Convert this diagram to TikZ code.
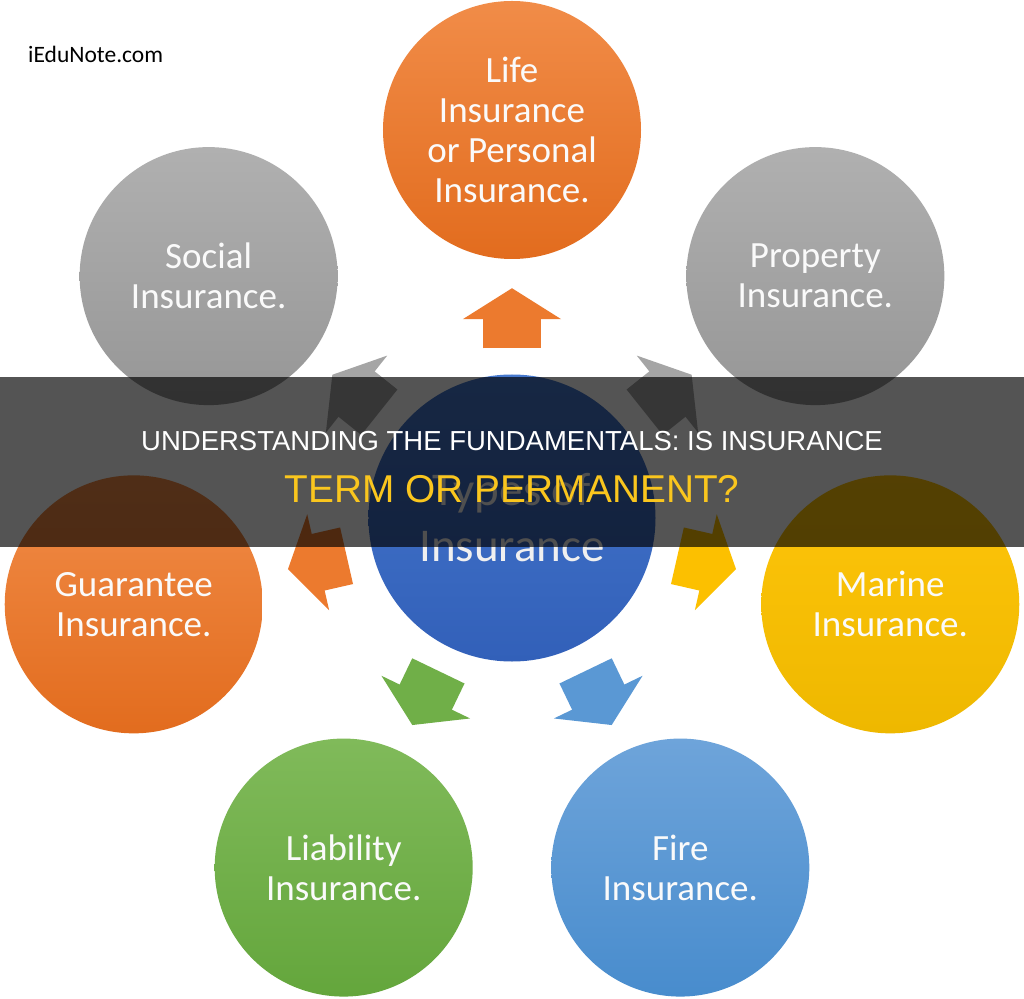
\documentclass[tikz,border=0pt]{standalone}
\usepackage{fontspec}
\usepackage{tikz}
\usetikzlibrary{arrows.meta}
\newfontfamily\bubblefont{Carlito}
\newfontfamily\bannerfont{Liberation Sans}
% colours: 1 = top of the shading, 2 = bottom, plain = the arrows
\definecolor{or1}{RGB}{241,140,72}
\definecolor{or2}{RGB}{226,108,30}
\definecolor{or}{RGB}{236,122,46}
\definecolor{gy1}{RGB}{176,176,176}
\definecolor{gy2}{RGB}{150,150,150}
\definecolor{gy}{RGB}{165,165,165}
\definecolor{ye1}{RGB}{255,197,10}
\definecolor{ye2}{RGB}{238,184,0}
\definecolor{ye}{RGB}{252,192,0}
\definecolor{bl1}{RGB}{110,164,218}
\definecolor{bl2}{RGB}{72,140,205}
\definecolor{bl}{RGB}{90,152,212}
\definecolor{gr1}{RGB}{128,186,90}
\definecolor{gr2}{RGB}{100,166,60}
\definecolor{gr}{RGB}{112,175,72}
\definecolor{hub1}{RGB}{70,120,205}
\definecolor{hub2}{RGB}{50,96,185}
\definecolor{gold}{RGB}{250,198,30}
\tikzstyle{bubble}=[circle,minimum size=258pt,inner sep=0pt,text=white!96!gray,
                    align=center,font=\bubblefont\fontsize{37}{40}\selectfont]
\tikzstyle{hub}=[circle,minimum size=287pt,inner sep=0pt,text=white!88!gray,
                 align=center,font=\bubblefont\fontsize{47}{56}\selectfont]
\tikzstyle{link}=[line width=58pt,-{Triangle[width=97pt,length=31pt]},
                  shorten <=26pt,shorten >=29pt]
\tikzstyle{banner}=[font=\bannerfont,anchor=base,inner sep=0pt]

\begin{document}
\begin{tikzpicture}[x=1pt,y=1pt]
    \fill[white] (-512,-480) rectangle (512,518);
    \useasboundingbox (-512,-480) rectangle (512,518);
	% draw the centre and the seven kinds
	\node[hub,top color=hub1,bottom color=hub2] (types) at (0,0) {Types of\\Insurance};
	\foreach \ang/\name/\c/\txt in {90/life/or/{Life\\Insurance\\or Personal\\Insurance.},
	                                38.57/property/gy/{Property\\Insurance.},
	                                -12.86/marine/ye/{Marine\\Insurance.},
	                                -64.29/fire/bl/{Fire\\Insurance.},
	                                -115.71/liability/gr/{Liability\\Insurance.},
	                                -167.14/guarantee/or/{Guarantee\\Insurance.},
	                                141.43/social/gy/{Social\\Insurance.}}
	    \node[bubble,top color=\c 1,bottom color=\c 2] (\name) at (\ang:388) {\txt};
	% block arrows from the centre out
	\foreach \name/\c in {life/or, property/gy, marine/ye, fire/bl,
	                      liability/gr, guarantee/or, social/gy}
	    \draw[link,draw=\c] (types) -- (\name);
	\node[font=\bubblefont\fontsize{23.5}{27}\selectfont,anchor=base west,inner sep=0pt]
	    (site) at (-484,455) {iEduNote.com};
	% dark band with the title
	\fill[black,opacity=0.67] (-512,141) rectangle (512,-29);
	\node[banner,text=white,font=\bannerfont\fontsize{27.5}{32}\selectfont] (title) at (0,68)
	    {UNDERSTANDING THE FUNDAMENTALS: IS INSURANCE};
	\node[banner,text=gold,font=\bannerfont\fontsize{38.8}{44}\selectfont] (subtitle) at (0,16)
	    {TERM OR PERMANENT?};
\end{tikzpicture}
\end{document}
